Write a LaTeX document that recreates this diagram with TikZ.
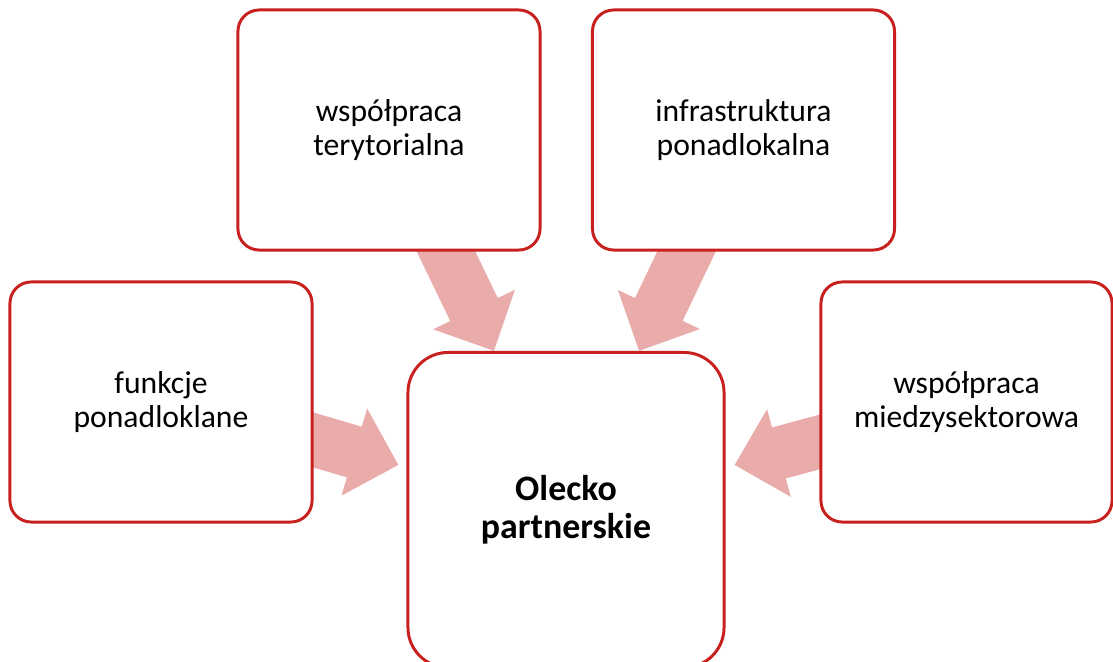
\documentclass[tikz,border=0pt]{standalone}
\usepackage{fontspec}
\setmainfont{Carlito}
\usetikzlibrary{arrows.meta,calc}
\definecolor{oleckoBorderRed}{HTML}{C8201E}
\definecolor{oleckoArrowPink}{HTML}{EAABAB}
\pgfdeclarelayer{bg}
\pgfsetlayers{bg,main}

\begin{document}
\begin{tikzpicture}[x=0.025cm, y=-0.025cm,
    every node/.style={font=\fontsize{22.5}{24}\selectfont, align=center},
    box/.style={draw=oleckoBorderRed, fill=white, line width=2.1pt, rounded corners=0.53cm,
        minimum width=7.55cm, minimum height=6cm, inner sep=0pt},
    flow/.style={oleckoArrowPink, line width=1.32cm, shorten <=-1cm,
        -{Triangle[length=1.15cm, width=2.2cm]}}]
    \useasboundingbox (0,0) rectangle (1113,662);
            \node[box] (wspTer) at (389,130) {współpraca\\terytorialna};
            \node[box] (infra) at (743.5,130) {infrastruktura\\ponadlokalna};
            \node[box] (funkcje) at (161,402) {funkcje\\ponadloklane};
            \node[box, minimum width=7.275cm] (wspMied) at (966.5,402) {współpraca\\miedzysektorowa};
            \node[box, rounded corners=1cm, minimum width=7.9cm, minimum height=7.875cm,
                font=\fontsize{25.5}{27}\selectfont\bfseries] (olecko) at (566,510) {Olecko\\partnerskie};
            \begin{pgfonlayer}{bg}
            \draw[flow] ($(wspTer.south)+(57,0)$) -- ($(olecko.north)+(-72,0)$);
            \draw[flow] ($(infra.south)+(-57,0)$) -- ($(olecko.north)+(73,0)$);
            \draw[flow] ($(funkcje.east)+(0,38)$) -- ($(olecko.west)+(-8,-45)$);
            \draw[flow] ($(wspMied.west)+(0,40)$) -- ($(olecko.east)+(9,-45)$);
            \end{pgfonlayer}
        \end{tikzpicture}
\end{document}
